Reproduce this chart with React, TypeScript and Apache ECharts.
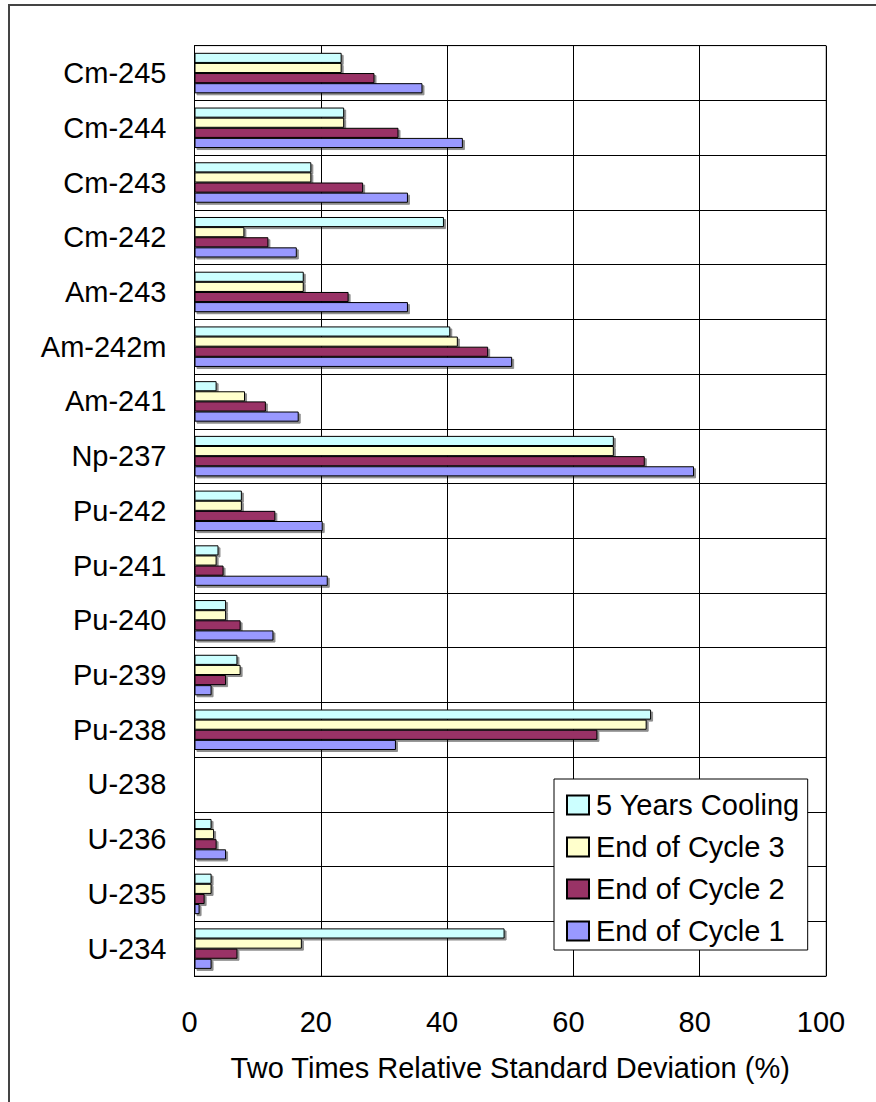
import React, { useEffect, useRef } from "react";
import * as echarts from "echarts";

const categories = [
  "U-234", "U-235", "U-236", "U-238", "Pu-238", "Pu-239", "Pu-240", "Pu-241", "Pu-242",
  "Np-237", "Am-241", "Am-242m", "Am-243", "Cm-242", "Cm-243", "Cm-244", "Cm-245",
];
const seriesNames = ["5 Years Cooling", "End of Cycle 3", "End of Cycle 2", "End of Cycle 1"];
const cooling5 = [49.1, 2.7, 2.7, 0, 72.3, 6.8, 5.0, 3.8, 7.5, 66.4, 3.5, 40.5, 17.3, 39.5, 18.5, 23.7, 23.3];
const cycle3 = [17.0, 2.7, 3.1, 0, 71.6, 7.3, 5.0, 3.5, 7.5, 66.4, 8.0, 41.7, 17.3, 7.9, 18.5, 23.7, 23.3];
const cycle2 = [6.8, 1.6, 3.5, 0, 63.8, 5.0, 7.3, 4.6, 12.8, 71.3, 11.3, 46.5, 24.4, 11.7, 26.7, 32.3, 28.5];
const cycle1 = [2.7, 0.8, 5.0, 0, 31.9, 2.7, 12.5, 21.1, 20.3, 79.1, 16.5, 50.3, 33.8, 16.2, 33.8, 42.5, 36.1];
const xTicks = [0, 20, 40, 60, 80, 100];
const colors = ["#CCFFFF", "#FFFFCC", "#993366", "#9999FF"];
const axisTitle = "Two Times Relative Standard Deviation (%)";

const FONT = "'Liberation Sans', Arial, sans-serif";
const FS = 29;

export default function App() {
  const ref = useRef<HTMLDivElement>(null);
  useEffect(() => {
    if (!ref.current) return;
    const chart = echarts.init(ref.current, null, { renderer: "svg" });
    const values = [cooling5, cycle3, cycle2, cycle1];
    chart.setOption({
      animation: false,
      backgroundColor: "#ffffff",
      textStyle: { fontFamily: FONT },
      graphic: [
        {
          type: "rect",
          shape: { x: 9, y: 5, width: 1000, height: 1200 },
          style: { fill: "none", stroke: "#444", lineWidth: 2 },
          z: 100,
        },
      ],
      grid: {
        left: 194.5,
        right: 50,
        top: 45.7,
        bottom: 126,
        show: true,
        borderColor: "#888",
        borderWidth: 1,
        backgroundColor: "transparent",
      },
      legend: {
        orient: "vertical",
        left: 554,
        top: 779,
        data: seriesNames,
        icon: "rect",
        itemWidth: 22,
        itemHeight: 19,
        itemGap: 12,
        padding: [11, 8, 4, 12],
        backgroundColor: "#ffffff",
        borderColor: "#000",
        borderWidth: 1,
        textStyle: { fontSize: FS, color: "#000", fontFamily: FONT, lineHeight: 30, padding: [0, 0, 0, 2] },
        z: 50,
      },
      xAxis: {
        type: "value",
        min: xTicks[0],
        max: xTicks[xTicks.length - 1],
        interval: 20,
        name: axisTitle,
        nameLocation: "middle",
        nameGap: 77,
        nameTextStyle: { fontSize: FS, color: "#000", fontFamily: FONT },
        axisLine: { show: true, lineStyle: { color: "#000", width: 1 } },
        axisTick: { show: false },
        axisLabel: {
          fontSize: FS,
          color: "#000",
          margin: 31,
          fontFamily: FONT,
          padding: [0, 10, 0, 0],
        },
        splitLine: { show: true, lineStyle: { color: "#000", width: 1 } },
      },
      yAxis: {
        type: "category",
        data: categories,
        axisLine: { show: true, lineStyle: { color: "#000", width: 1 } },
        axisTick: { show: true, inside: true, length: 9, lineStyle: { color: "#000" } },
        axisLabel: { fontSize: FS, color: "#000", margin: 28, fontFamily: FONT },
        splitLine: { show: true, lineStyle: { color: "#000", width: 1 } },
      },
      series: seriesNames.map((name, i) => ({
        name,
        type: "bar",
        data: values[i],
        barGap: "0%",
        barCategoryGap: "26%",
        itemStyle: {
          color: colors[i],
          borderColor: "#000",
          borderWidth: 1,
          shadowColor: "rgba(0,0,0,0.45)",
          shadowBlur: 1,
          shadowOffsetX: 2,
          shadowOffsetY: 2,
        },
      })),
    });
    return () => chart.dispose();
  }, []);
  return (
    <div
      ref={ref}
      style={{ position: "fixed", left: 0, top: 0, width: 876, height: 1102, overflow: "hidden" }}
    />
  );
}
